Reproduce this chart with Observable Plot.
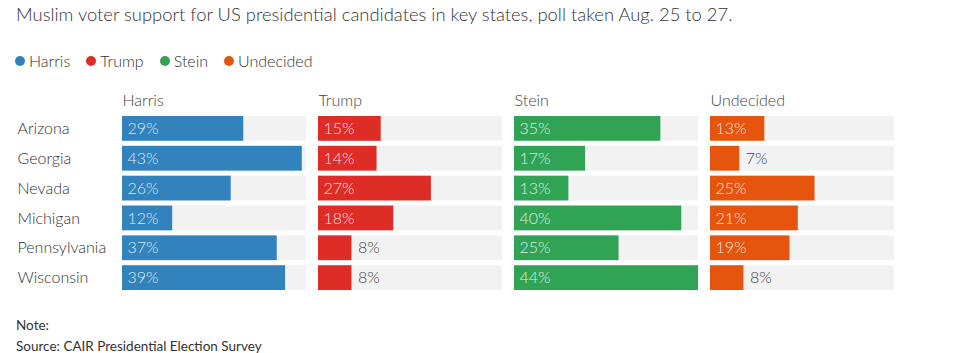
<!DOCTYPE html>
<html>
<head>
<meta charset="utf-8">
<script src="https://cdn.jsdelivr.net/npm/d3@7"></script>
<script src="https://cdn.jsdelivr.net/npm/@observablehq/plot@0.6"></script>
<style>
  body { margin: 0; background: #fff; font-family: Lato, "Noto Sans", sans-serif; color: #333; }
  #wrap { position: relative; width: 953px; height: 353px; overflow: hidden; }
  #title { position: absolute; left: 16px; top: 3px; font-size: 18.4px; font-weight: 300; color: #333; white-space: nowrap; }
  #legend { position: absolute; left: 15px; top: 51px; font-size: 16px; font-weight: 300; color: #333; display: flex; gap: 16px; }
  #legend span.item { display: flex; align-items: center; }
  #legend span.dot { display: inline-block; width: 10px; height: 10px; border-radius: 50%; margin-right: 4px; }
  #chart { position: absolute; left: 0; top: 85px; line-height: 0; }
  #chart svg { display: block; }
  #note { position: absolute; left: 16px; top: 315px; font-size: 13.5px; font-weight: 400; color: #333; line-height: 21px; }
</style>
</head>
<body>
<div id="wrap">
  <div id="title">Muslim voter support for US presidential candidates in key states, poll taken Aug. 25 to 27.</div>
  <div id="legend"></div>
  <div id="chart"></div>
  <div id="note">Note:<br>Source: CAIR Presidential Election Survey</div>
</div>
<script>
const states = ["Arizona", "Georgia", "Nevada", "Michigan", "Pennsylvania", "Wisconsin"];
const candidates = ["Harris", "Trump", "Stein", "Undecided"];
const harris = [29, 43, 26, 12, 37, 39];
const trump = [15, 14, 27, 18, 8, 8];
const stein = [35, 17, 13, 40, 25, 44];
const undecided = [13, 7, 25, 21, 19, 8];
const colors = ["#3182bd", "#de2d26", "#31a354", "#e6550d"];
const maxValue = 44;

const series = [harris, trump, stein, undecided];
const rows = candidates.flatMap((c, i) => states.map((s, j) => ({candidate: c, state: s, value: series[i][j]})));

// legend
const legend = document.getElementById("legend");
candidates.forEach((c, i) => {
  const item = document.createElement("span");
  item.className = "item";
  const dot = document.createElement("span");
  dot.className = "dot";
  dot.style.background = colors[i];
  item.appendChild(dot);
  item.appendChild(document.createTextNode(c));
  legend.appendChild(item);
});

const chart = Plot.plot({
  width: 953,
  height: 210,
  marginLeft: 122,
  marginRight: 59,
  marginTop: 31,
  marginBottom: 5,
  style: {fontFamily: "Lato, 'Noto Sans', sans-serif", fontSize: "15px", background: "transparent"},
  fx: {domain: candidates, paddingInner: 12 / 196, paddingOuter: 0, round: false, axis: null, label: null},
  x: {domain: [0, maxValue], axis: null},
  y: {domain: states, paddingInner: 0.17, paddingOuter: 0, round: false, axis: null},
  color: {domain: candidates, range: colors},
  marks: [
    Plot.barX(rows, {fx: "candidate", y: "state", x: () => maxValue, fill: "#f2f2f2"}),
    Plot.barX(rows, {fx: "candidate", y: "state", x: "value", fill: "candidate"}),
    Plot.text(rows.filter(d => d.value >= 10), {fx: "candidate", y: "state", x: () => 0, text: d => d.value + "%", textAnchor: "start", dx: 5, fill: "#fff", fillOpacity: 0.85, fontWeight: 300, fontSize: 16}),
    Plot.text(rows.filter(d => d.value < 10), {fx: "candidate", y: "state", x: "value", text: d => d.value + "%", textAnchor: "start", dx: 6, fill: "#444", fontWeight: 300, fontSize: 16}),
    Plot.text(candidates, {fx: d => d, text: d => d, frameAnchor: "top-left", lineAnchor: "middle", dy: -16, textAnchor: "start", fill: "#444", fontWeight: 300, fontSize: 16}),
    Plot.text(states, {fx: () => "Harris", y: d => d, text: d => d, frameAnchor: "left", dx: -105, textAnchor: "start", fill: "#333", fontWeight: 300, fontSize: 16})
  ]
});
document.getElementById("chart").appendChild(chart);
</script>
</body>
</html>
